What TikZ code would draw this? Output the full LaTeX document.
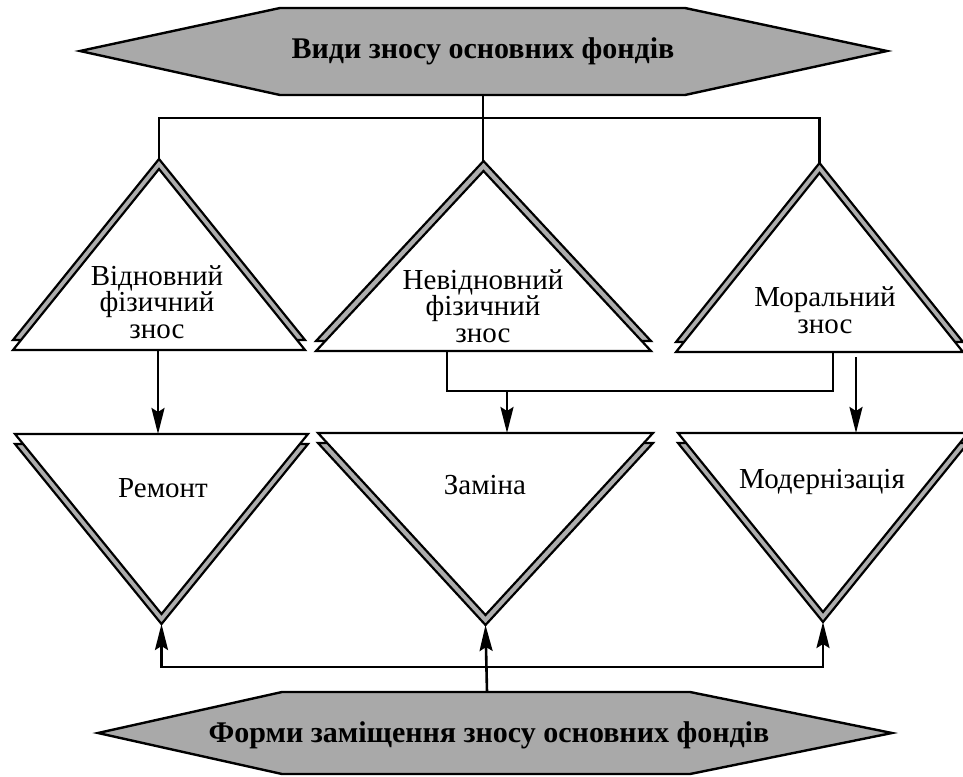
\documentclass[tikz,border=0pt]{standalone}
\usepackage{fontspec}
\setmainfont{Liberation Serif}
\newfontfamily\tnr{Liberation Serif}
\usetikzlibrary{arrows.meta}
\definecolor{hexgray}{HTML}{A9A9A9}
\definecolor{bandgray}{HTML}{ADADAD}
\tikzset{
  band/.style={fill=bandgray, draw=black, line width=2.2pt, line join=miter},
  face/.style={fill=white, draw=black, line width=2.2pt, line join=miter},
  hexa/.style={fill=hexgray, draw=black, line width=2.4pt, line join=miter},
  link/.style={draw=black, line width=2.6pt},
  arr/.style={link, -{Stealth[length=26pt,width=13pt,inset=4pt]}},
  lbl/.style={font=\tnr\fontsize{29}{26.5}\selectfont, align=center, inner sep=0pt},
  heading/.style={font=\tnr\bfseries\fontsize{30}{32}\selectfont, inner sep=0pt}
}
% triangle with a bevelled band along its two slanted sides
% #1 name, #2 centre x, #3 apex y, #4 base y, #5 half width
\newcommand\UpTri[5]{%
  \draw[band] (#2,#3-10) -- (#2+#5,#4-10) -- (#2-#5,#4-10) -- cycle;
  \draw[face] (#2,#3) -- (#2+#5,#4) -- (#2-#5,#4) -- cycle;
  \coordinate (#1-apex) at (#2,#3-10);
}
% #1 name, #2 centre x, #3 top edge y, #4 tip y, #5 half width
\newcommand\DownTri[5]{%
  \draw[band] (#2,#4+10) -- (#2+#5,#3+10) -- (#2-#5,#3+10) -- cycle;
  \draw[face] (#2,#4) -- (#2+#5,#3) -- (#2-#5,#3) -- cycle;
  \coordinate (#1-tip) at (#2,#4+10);
  \coordinate (#1-top) at (#2,#3);
}
\begin{document}
\begin{tikzpicture}[x=1pt,y=-1pt]
\useasboundingbox (0,0) rectangle (963,776);

% headings
\draw[hexa] (80,51) -- (280,8) -- (685,8) -- (887,51) -- (685,95) -- (280,95) -- cycle;
\node[heading] (kinds) at (483,51) {Види зносу основних фондів};
\coordinate (kinds-s) at (483,95);

\draw[hexa] (98,733) -- (282,692) -- (690,692) -- (892,733) -- (690,774) -- (282,774) -- cycle;
\node[heading] (forms) at (489,735) {Форми заміщення зносу основних фондів};
\coordinate (forms-n) at (487,692);

% kinds of depreciation
\UpTri{ren}{159}{169}{350}{146}
\UpTri{irr}{483.5}{171}{351}{167.5}
\UpTri{mor}{819.5}{173}{352}{143.5}
\node[lbl] (renT) at (157,302) {Відновний\\фізичний\\знос};
\node[lbl] (irrT) at (483,306) {Невідновний\\фізичний\\знос};
\node[lbl] (morT) at (825,310) {Моральний\\знос};

% forms of replacement
\DownTri{rem}{161.5}{434}{614}{146.5}
\DownTri{zam}{485.5}{433}{615}{167.5}
\DownTri{mod}{823}{433}{612}{145}
\node[lbl] (remT) at (163,488) {Ремонт};
\node[lbl] (zamT) at (485,485) {Заміна};
\node[lbl] (modT) at (822,482) {Модернізація};

% connectors from the top heading
\coordinate (bus) at (483,118);
\draw[link] (kinds-s) -- (bus);
\draw[link] (ren-apex) |- (bus) -| (mor-apex);
\draw[link] (bus) -- (bus |- irr-apex);

% connectors between the rows
\coordinate (ren-b) at (158,350);
\coordinate (irr-b) at (447,351);
\coordinate (mor-b) at (833,352);
\coordinate (mor-b2) at (856,357);
\coordinate (join) at (507,391);
\draw[arr] (ren-b) -- (ren-b |- rem-top);
\draw[link] (irr-b) |- (join) -| (mor-b);
\draw[arr] (join) -- (join |- zam-top);
\draw[arr] (mor-b2) -- (mor-b2 |- mod-top);

% connectors from the bottom heading
\coordinate (low) at (487,667);
\draw[arr] (forms-n) -- (zam-tip);
\draw[arr] (low) -| (rem-tip);
\draw[arr] (low) -| (mod-tip);
\end{tikzpicture}
\end{document}
